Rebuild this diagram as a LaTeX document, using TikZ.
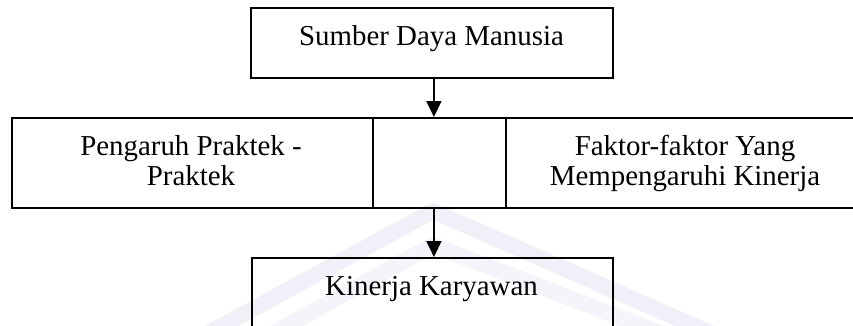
\documentclass[tikz,border=0pt]{standalone}
\usepackage{fontspec}
\setmainfont{Liberation Serif}
\usetikzlibrary{arrows.meta}
\begin{document}
\begin{tikzpicture}[x=1bp,y=-1bp,
  box/.style={draw=black, line width=1.8bp, minimum width=#1, inner sep=0pt, minimum height=90bp, anchor=north west},
  txt/.style={font=\fontsize{29}{30}\selectfont, inner sep=0pt, anchor=base},
  flow/.style={line width=1.8bp, -{Triangle[width=15bp,length=16bp]}},
  mark band/.style={line width=16bp, draw={rgb,255:red,240;green,240;blue,249}, line join=miter}]
\useasboundingbox (0,0) rectangle (853,325);
\clip (0,0) rectangle (853,325);
% faint background emblem
\draw[mark band] (205,335) -- (433,211) -- (715,335);
\draw[mark band, draw={rgb,255:red,244;green,244;blue,251}] (270,335) -- (433,245) -- (665,335);
% boxes
\node[box=362bp, minimum height=70bp] (top) at (250,7) {};
\node[box=361bp] (left) at (11,117) {};
\node[box=133bp] (midc) at (372,117) {};
\node[box=360bp] (right) at (505,117) {};
\node[box=361bp, minimum height=100bp] (bot) at (251,257) {};
% labels
\node[txt] (t1) at (431.5,45) {Sumber Daya Manusia};
\node[txt] (l1) at (191,155) {Pengaruh Praktek -};
\node[txt] (l2) at (191,185) {Praktek};
\node[txt] (r1) at (685,155) {Faktor-faktor Yang};
\node[txt] (r2) at (685,185) {Mempengaruhi Kinerja};
\node[txt] (b1) at (431.5,295) {Kinerja Karyawan};
% connectors
\coordinate (a1) at ([xshift=2bp]top.south);
\draw[flow] (a1) -- (a1 |- midc.north);
\coordinate (a2) at ([xshift=1.5bp]bot.north);
\draw[flow] (a2 |- midc.south) -- (a2);
\end{tikzpicture}
\end{document}
